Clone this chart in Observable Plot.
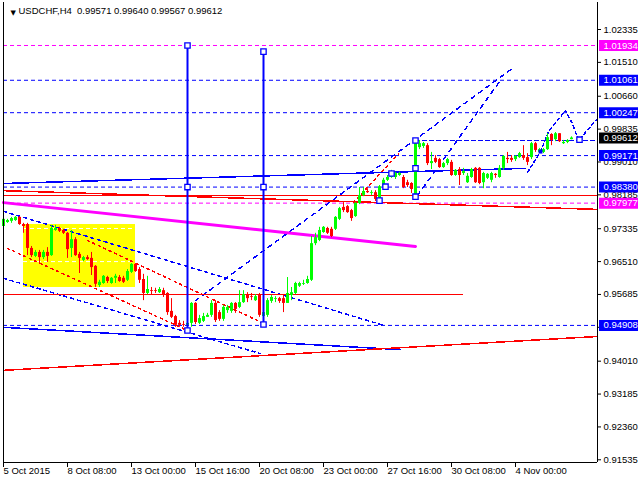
<!DOCTYPE html>
<html><head><meta charset="utf-8">
<script src="https://cdn.jsdelivr.net/npm/d3@7"></script>
<script src="https://cdn.jsdelivr.net/npm/@observablehq/plot@0.6"></script>
<style>body{margin:0;background:#fff}svg{display:block}</style>
</head><body><div id="chart"></div>
<script>
// ---------- DATA ----------
const symbolTitle = "USDCHF,H4  0.99571 0.99640 0.99567 0.99612";
// H4 candles, bar index 0 = 5 Oct 2015 00:00
const openP = [0.9739,0.9749,0.9752,0.9754,0.9762,0.9744,0.9744,0.9684,0.9664,0.9674,0.9661,0.9674,0.9666,0.9729,0.9734,0.9729,0.9722,0.9684,0.9706,0.9669,
0.9654,0.9661,0.9659,0.9639,0.9591,0.9596,0.9611,0.9596,0.9609,0.9611,0.9609,0.9604,0.9624,0.9644,0.9631,0.9606,0.9571,0.9578,0.9578,0.9573,
0.9578,0.9571,0.9526,0.9513,0.9496,0.9493,0.9491,0.9496,0.9546,0.9496,0.9501,0.9511,0.9516,0.9546,0.9523,0.9506,0.9528,0.9526,0.9546,0.9536,
0.9548,0.9568,0.9563,0.9553,0.9566,0.9513,0.9516,0.9551,0.9556,0.9558,0.9558,0.9546,0.9566,0.9571,0.9589,0.9594,0.9596,0.9604,0.9696,0.9704,
0.9724,0.9734,0.9732,0.9732,0.9757,0.9787,0.9789,0.9779,0.9764,0.9797,0.9817,0.9827,0.9822,0.9824,0.9807,0.9839,0.9855,0.9862,0.9862,0.9867,
0.9862,0.9849,0.9847,0.9817,0.9937,0.9940,0.9942,0.9897,0.9910,0.9907,0.9887,0.9897,0.9900,0.9867,0.9882,0.9872,0.9849,0.9862,0.9885,0.9885,
0.9849,0.9860,0.9855,0.9870,0.9862,0.9885,0.9910,0.9910,0.9907,0.9912,0.9917,0.9912,0.9912,0.9947,0.9925,0.9925,0.9932,0.9970,0.9957,0.9972,
0.9947,0.9950,0.99571];
const highP = [0.9762,0.9757,0.9762,0.9764,0.9764,0.9747,0.9747,0.9689,0.9679,0.9679,0.9679,0.9686,0.9742,0.9742,0.9737,0.9732,0.9724,0.9729,0.9711,0.9674,
0.9664,0.9666,0.9674,0.9641,0.9604,0.9616,0.9614,0.9611,0.9619,0.9616,0.9614,0.9631,0.9646,0.9646,0.9636,0.9619,0.9614,0.9586,0.9584,0.9586,
0.9584,0.9573,0.9558,0.9516,0.9503,0.9501,0.9501,0.9548,0.9548,0.9516,0.9521,0.9521,0.9553,0.9553,0.9528,0.9541,0.9541,0.9548,0.9548,0.9578,
0.9578,0.9573,0.9571,0.9568,0.9571,0.9528,0.9558,0.9566,0.9563,0.9561,0.9566,0.9611,0.9586,0.9599,0.9599,0.9604,0.9614,0.9714,0.9722,0.9737,
0.9739,0.9737,0.9737,0.9764,0.9787,0.9799,0.9792,0.9782,0.9799,0.9837,0.9837,0.9834,0.9829,0.9829,0.9842,0.9860,0.9867,0.9880,0.9875,0.9875,
0.9867,0.9855,0.9849,0.9955,0.9955,0.9950,0.9947,0.9925,0.9917,0.9910,0.9900,0.9910,0.9905,0.9882,0.9887,0.9885,0.9872,0.9885,0.9887,0.9887,
0.9875,0.9872,0.9875,0.9872,0.9892,0.9917,0.9925,0.9917,0.9917,0.9925,0.9942,0.9922,0.9950,0.9950,0.9935,0.9935,0.9972,0.9972,0.9975,0.9972,
0.9955,0.9957,0.99640];
const lowP = [0.9729,0.9747,0.9747,0.9752,0.9742,0.9722,0.9666,0.9661,0.9661,0.9646,0.9656,0.9649,0.9664,0.9727,0.9724,0.9719,0.9659,0.9661,0.9664,0.9621,
0.9651,0.9654,0.9616,0.9586,0.9586,0.9594,0.9596,0.9594,0.9596,0.9599,0.9596,0.9601,0.9621,0.9624,0.9596,0.9553,0.9568,0.9568,0.9571,0.9571,
0.9561,0.9516,0.9508,0.9486,0.9486,0.9486,0.9478,0.9486,0.9493,0.9493,0.9498,0.9511,0.9511,0.9498,0.9501,0.9501,0.9521,0.9521,0.9521,0.9533,
0.9546,0.9548,0.9553,0.9551,0.9511,0.9493,0.9511,0.9546,0.9548,0.9546,0.9523,0.9546,0.9553,0.9568,0.9586,0.9591,0.9594,0.9601,0.9691,0.9701,
0.9722,0.9719,0.9711,0.9729,0.9754,0.9774,0.9772,0.9752,0.9762,0.9794,0.9814,0.9822,0.9817,0.9802,0.9804,0.9837,0.9852,0.9860,0.9857,0.9865,
0.9834,0.9837,0.9822,0.9812,0.9932,0.9935,0.9892,0.9882,0.9897,0.9885,0.9885,0.9892,0.9865,0.9865,0.9842,0.9867,0.9847,0.9860,0.9847,0.9844,
0.9834,0.9857,0.9849,0.9860,0.9860,0.9880,0.9897,0.9900,0.9902,0.9910,0.9905,0.9892,0.9907,0.9925,0.9922,0.9922,0.9930,0.9942,0.9952,0.9950,
0.9945,0.9947,0.99567];
const closeP = [0.9757,0.9754,0.9759,0.9762,0.9744,0.9739,0.9684,0.9666,0.9674,0.9661,0.9674,0.9664,0.9734,0.9734,0.9727,0.9722,0.9681,0.9706,0.9666,0.9659,
0.9661,0.9656,0.9636,0.9594,0.9599,0.9614,0.9601,0.9609,0.9614,0.9601,0.9599,0.9626,0.9644,0.9626,0.9604,0.9571,0.9581,0.9576,0.9576,0.9581,
0.9566,0.9523,0.9511,0.9491,0.9491,0.9491,0.9496,0.9546,0.9498,0.9508,0.9513,0.9516,0.9546,0.9503,0.9506,0.9536,0.9536,0.9546,0.9531,0.9548,
0.9568,0.9558,0.9561,0.9563,0.9516,0.9523,0.9553,0.9561,0.9558,0.9551,0.9546,0.9571,0.9573,0.9596,0.9596,0.9596,0.9606,0.9696,0.9711,0.9729,
0.9737,0.9722,0.9714,0.9762,0.9784,0.9779,0.9774,0.9759,0.9797,0.9817,0.9827,0.9824,0.9824,0.9807,0.9839,0.9855,0.9862,0.9872,0.9872,0.9872,
0.9837,0.9842,0.9832,0.9950,0.9947,0.9947,0.9897,0.9902,0.9900,0.9887,0.9897,0.9907,0.9867,0.9880,0.9867,0.9877,0.9865,0.9882,0.9849,0.9847,
0.9872,0.9870,0.9872,0.9867,0.9885,0.9915,0.9907,0.9905,0.9915,0.9922,0.9910,0.9900,0.9947,0.9930,0.9932,0.9932,0.9962,0.9955,0.9972,0.9952,
0.9950,0.9955,0.99612];

const xTicks = [0,16,32,48,64,80,96,112,128];
const xLabels = ["5 Oct 2015","8 Oct 08:00","13 Oct 00:00","15 Oct 16:00","20 Oct 08:00","23 Oct 00:00","27 Oct 16:00","30 Oct 08:00","4 Nov 00:00"];
const yTicks = [1.02335,1.01510,1.00660,0.99835,0.99010,0.98185,0.97335,0.96510,0.95685,0.94860,0.94010,0.93185,0.92360,0.91535];

// horizontal levels (value, kind)
const levelValues = [1.01934,1.01061,1.00247,0.99171,0.98380,0.97977,0.94908];
const levelKinds  = ["target","level","level","level","level","target","level"];
// price tags on the right axis
const tagValues = [1.01934,1.01061,1.00247,0.99612,0.99171,0.98380,0.97977,0.94908];
const tagKinds  = ["target","level","level","price","level","level","target","level"];

// trend lines as [bar, price] pairs
const blueUpper   = [[0,0.9847],[130.5,0.9885]];
const redFlat     = [[0,0.9817],[148.5,0.9817]];
const redSlope    = [[0,0.9829],[148.5,0.9782]];
const magentaLine = [[0,0.9799],[103,0.9689]];
const redSupport  = [[0,0.9568],[114.75,0.9568]];
const blueChanA   = [[0,0.9777],[95,0.9491]];
const blueChanB   = [[0,0.9609],[64.25,0.9420]];
const redChanA    = [[21,0.9704],[65,0.9496]];
const redChanB    = [[1,0.9684],[46,0.9478]];
const riseA       = [[48,0.9553],[127.25,1.0136]];
const riseB       = [[103.5,0.9817],[124.25,1.0106]];
const riseRed     = [[87.5,0.9799],[98.75,0.9922]];
const blueLower   = [[0,0.9486],[99.25,0.9430]];
const redLower    = [[0,0.9378],[148.5,0.9463]];
const currentRay  = [[103,0.9955],[148.5,0.9955]];
const forecast    = [[131,0.9875],[134.25,0.9927],[136.25,0.9977],[140.5,1.0030],[142.25,0.9997],[143.75,0.9955],[148.5,1.0010]];
// yellow box: bars and prices
const boxBars = [5,33];
const boxPrices = [0.9586,0.9744];
const boxInner = [0.9734,0.9651];
// vertical time lines: bar, top, bottom
const vBars = [46,65];
const vTops = [1.01934,1.0178];
const vBottoms = [0.9478,0.9493];
// square anchors
const squares = [[46,1.01934],[46,0.9838],[46,0.9478],[65,1.0178],[65,0.9838],[65,0.9493],
  [103,0.9955],[103,0.9885],[103,0.9814],[94,0.9804],[95.5,0.9839],[97,0.9872],[144,0.9957]];
const filledSquares = [[134.25,0.9927]];

// ---------- STYLE ----------
const C = {green:"#00ff00", red:"#ff0000", blue:"#0000ff", magenta:"#ff00ff", yellow:"#ffff00"};
const kindColor = {target:C.magenta, level:C.blue, price:"#000000"};
const tagX0 = 149, tagX1 = 158.75, tagTextX = 150;
const FONT = "Liberation Sans, Arial, sans-serif";

const candles = openP.map((o,i)=>({i, o, h:highP[i], l:lowP[i], c:closeP[i]}));
const col = d => d.c >= d.o ? C.green : C.red;
const levels = levelValues.map((v,i)=>({v, k:levelKinds[i]}));
const tags = tagValues.map((v,i)=>({v, k:tagKinds[i]}));
const seg = (pts, o) => Plot.line(pts, {x:d=>d[0], y:d=>d[1], shapeRendering:"crispEdges", ...o});

const chart = Plot.plot({
  width:640, height:480,
  marginLeft:3, marginRight:43, marginTop:2, marginBottom:18,
  x:{domain:[0,148.5]},
  y:{domain:[0.91467,1.03013]},
  color:{type:"identity"},
  style:{fontFamily:FONT, fontSize:"9.5px", background:"#fff", color:"#000"},
  marks:[
    Plot.rect([0], {x1:boxBars[0], x2:boxBars[1], y1:boxPrices[0], y2:boxPrices[1], fill:C.yellow}),
    Plot.ruleY(boxInner, {x1:boxBars[0], x2:boxBars[1], stroke:"#fff", strokeDasharray:"4,3"}),
    Plot.ruleY(levels, {y:"v", stroke:d=>kindColor[d.k], strokeDasharray:"4,3"}),
    seg(currentRay, {stroke:C.blue, strokeDasharray:"4,3"}),
    seg(blueChanA, {stroke:C.blue, strokeDasharray:"3,4"}),
    seg(blueChanB, {stroke:C.blue, strokeDasharray:"3,4"}),
    seg(redChanA, {stroke:C.red, strokeDasharray:"2,4"}),
    seg(redChanB, {stroke:C.red, strokeDasharray:"2,4"}),
    seg(riseA, {stroke:C.blue, strokeDasharray:"4,5"}),
    seg(riseB, {stroke:C.blue, strokeDasharray:"4,5"}),
    seg(riseRed, {stroke:C.red, strokeDasharray:"2,4"}),
    seg(forecast, {stroke:C.blue, strokeDasharray:"3,3"}),
    seg(redSupport, {stroke:C.red, strokeWidth:1.5}),
    seg(redFlat, {stroke:C.red, strokeWidth:1.5}),
    seg(redSlope, {stroke:C.red, strokeWidth:1.5}),
    seg(blueUpper, {stroke:C.blue, strokeWidth:1.5}),
    seg(blueLower, {stroke:C.blue, strokeWidth:1.5}),
    seg(redLower, {stroke:C.red, strokeWidth:1.5}),
    Plot.line(magentaLine, {x:d=>d[0], y:d=>d[1], stroke:C.magenta, strokeWidth:3}),
    Plot.ruleX(candles, {x:"i", y1:"l", y2:"h", stroke:col, strokeWidth:1}),
    Plot.ruleX(candles, {x:"i", y1:"o", y2:"c", stroke:col, strokeWidth:3}),
    Plot.ruleX(vBars, {x:d=>d, y1:(d,i)=>vTops[i], y2:(d,i)=>vBottoms[i], stroke:C.blue, strokeWidth:2}),
    Plot.dot(squares, {x:d=>d[0], y:d=>d[1], symbol:"square", r:3, stroke:C.blue, fill:"#fff", strokeWidth:1.3}),
    Plot.dot(filledSquares, {x:d=>d[0], y:d=>d[1], symbol:"square", r:2.2, fill:C.blue}),
    Plot.ruleX([0,148.5], {stroke:"#000"}),
    Plot.ruleY([0.91467], {stroke:"#000"}),
    Plot.axisY(yTicks, {anchor:"right", tickSize:3, tickPadding:3, tickFormat:d=>d.toFixed(5), label:null, textAnchor:"start"}),
    Plot.axisX(xTicks, {anchor:"bottom", tickSize:5, tickPadding:0, tickFormat:d=>xLabels[xTicks.indexOf(d)], textAnchor:"start", label:null}),
    Plot.ruleY(tags, {y:"v", x1:tagX0, x2:tagX1, stroke:d=>kindColor[d.k], strokeWidth:11}),
    Plot.text(tags, {y:"v", x:tagTextX, text:d=>d.v.toFixed(5), fill:"#fff", textAnchor:"start"}),
    Plot.text(["\u25BC"], {frameAnchor:"top-left", dx:7, dy:8, fontSize:7, fill:"#000", fontFamily:"DejaVu Sans"}),
    Plot.text([symbolTitle], {frameAnchor:"top-left", dx:15, dy:5, textAnchor:"start", lineAnchor:"top", fill:"#000"})
  ]
});
document.getElementById("chart").appendChild(chart);
</script>
</body></html>
